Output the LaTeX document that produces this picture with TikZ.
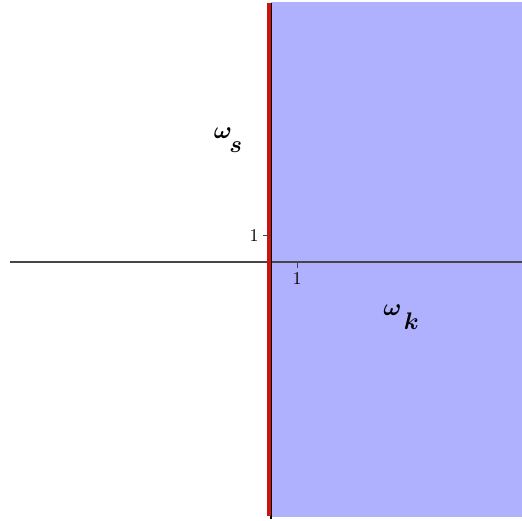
\documentclass[tikz,border=0pt]{standalone}
\usepackage{amsmath, amssymb}
\usepackage{bm}
\usetikzlibrary{positioning}
\definecolor{regionblue}{RGB}{176,177,254}
\definecolor{boundred}{RGB}{204,18,18}
\definecolor{axisgray}{RGB}{70,70,70}

\begin{document}
\begin{tikzpicture}[x=1pt, y=-1pt,
    axislabel/.style={font=\boldmath, scale=2.4, inner sep=0pt},
    ticklabel/.style={scale=1.8, inner sep=0.5pt}]
    \useasboundingbox (0,0) rectangle (522,520);

    % Shaded half plane
    \fill[regionblue] (271,2) rectangle (522,517);

    % Axes end points
    \coordinate (xl) at (10,262);
    \coordinate (xr) at (522,262);
    \coordinate (yt) at (271,3);
    \coordinate (yb) at (271,519);

    % Draw the axes
    \draw[axisgray, line width=1.6pt] (xl) -- (xr);
    \draw[black, line width=1.2pt] (yt) -- (yb);

    % Boundary line
    \coordinate (rt) at (269,3);
    \coordinate (rb) at (269,516);
    \draw[boundred, line width=3.5pt] (rt) -- (rb);

    % Ticks
    \coordinate (ty) at (270,235);
    \coordinate (tx) at (297,263);
    \draw[axisgray, line width=1pt] (ty) -- ++(-7,0) coordinate (tyl);
    \draw[axisgray, line width=1pt] (tx) -- ++(0,5) coordinate (txb);
    \node[ticklabel, left=3pt of tyl] (ly) {1};
    \node[ticklabel, below=3pt of txb] (lx) {1};

    % Axis labels
    \node[axislabel, anchor=center] (ws) at (228,140) {$\omega\kern-1pt\raisebox{-6pt}{$s$}$};
    \node[axislabel, anchor=center] (wk) at (401,317) {$\omega\kern1pt\raisebox{-6pt}{$k$}$};

\end{tikzpicture}
\end{document}
